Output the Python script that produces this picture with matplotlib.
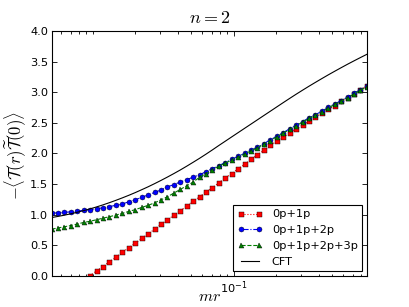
import numpy as np
import matplotlib
matplotlib.use("Agg")
import matplotlib.pyplot as plt
from matplotlib.ticker import LogLocator, NullFormatter, FixedLocator

plt.rcParams['mathtext.fontset'] = 'cm'
plt.rcParams['font.family'] = ['DejaVu Sans']

# mr values (log spaced grid)
mr = [0.005100, 0.005664, 0.006292, 0.006990, 0.007765, 0.008626, 0.009583,
      0.01064, 0.01183, 0.01314, 0.01459, 0.01621, 0.01801, 0.02000, 0.02222,
      0.02469, 0.02742, 0.03046, 0.03384, 0.03759, 0.04176, 0.04639, 0.05153,
      0.05724, 0.06359, 0.07064, 0.07847, 0.08717, 0.09678, 0.1075, 0.1194,
      0.1327, 0.1474, 0.1637, 0.1819, 0.2020, 0.2244, 0.2493, 0.2769, 0.3076,
      0.3417, 0.3796, 0.4216, 0.4684, 0.5203, 0.5779, 0.6420, 0.7131, 0.7922,
      0.8800]

p01 = [-0.46, -0.38, -0.30, -0.23, -0.15, -0.08,
       0.00, 0.08, 0.15, 0.23, 0.30, 0.38, 0.46, 0.53, 0.61, 0.68,
       0.76, 0.84, 0.91, 0.99, 1.06, 1.14, 1.22, 1.29, 1.37, 1.44,
       1.52, 1.60, 1.67, 1.75, 1.82, 1.90, 1.98, 2.05, 2.13, 2.20,
       2.27, 2.33, 2.40, 2.46, 2.53, 2.59, 2.66, 2.72, 2.78, 2.85,
       2.91, 2.97, 3.04, 3.10]

p012 = [1.02, 1.03, 1.035, 1.045, 1.055, 1.07, 1.08, 1.095, 1.11, 1.13,
        1.15, 1.17, 1.21, 1.24, 1.28, 1.32, 1.36, 1.40, 1.45, 1.49,
        1.53, 1.57, 1.61, 1.65, 1.70, 1.75, 1.80, 1.85, 1.90, 1.95,
        2.00, 2.05, 2.10, 2.16, 2.22, 2.28, 2.34, 2.40, 2.46, 2.52,
        2.58, 2.63, 2.69, 2.75, 2.81, 2.86, 2.92, 2.98, 3.04, 3.10]

p0123 = [0.76, 0.78, 0.80, 0.82, 0.845, 0.87, 0.89, 0.915, 0.94, 0.965,
         0.99, 1.02, 1.05, 1.08, 1.115, 1.15, 1.19, 1.24, 1.29, 1.35,
         1.41, 1.47, 1.53, 1.61, 1.67, 1.73, 1.79, 1.84, 1.89, 1.94,
         1.99, 2.04, 2.09, 2.15, 2.21, 2.27, 2.33, 2.39, 2.45, 2.51,
         2.57, 2.62, 2.68, 2.74, 2.80, 2.85, 2.91, 2.97, 3.03, 3.09]

cft = [0.950, 0.969, 0.989, 1.012, 1.037, 1.064, 1.093, 1.124, 1.158, 1.194,
       1.232, 1.272, 1.314, 1.358, 1.405, 1.453, 1.504, 1.557, 1.612, 1.669,
       1.728, 1.790, 1.854, 1.919, 1.987, 2.057, 2.129, 2.199, 2.269, 2.339,
       2.409, 2.479, 2.549, 2.619, 2.689, 2.759, 2.829, 2.898, 2.966, 3.032,
       3.097, 3.160, 3.222, 3.283, 3.342, 3.400, 3.457, 3.512, 3.566, 3.619]

fig = plt.figure(figsize=(4.09, 3.07), dpi=100)
ax = fig.add_axes([0.126, 0.102, 0.771, 0.797])

ms = 3.6
ax.plot(mr, p01, 'r:s', ms=ms, mec='k', mew=0.3, lw=0.8, label='0p+1p')
ax.plot(mr, p012, 'b-.o', ms=ms, mec='k', mew=0.3, lw=0.8, label='0p+1p+2p')
ax.plot(mr, p0123, 'g--^', ms=ms, mec='k', mew=0.3, lw=0.8, label='0p+1p+2p+3p')
ax.plot(mr, cft, 'k-', lw=0.8, label='CFT')

ax.set_xscale('log')
ax.set_xlim(0.0051, 0.88)
ax.set_ylim(0, 4)
ax.set_yticks(np.arange(0, 4.01, 0.5))
ax.xaxis.set_major_locator(FixedLocator([0.1]))
ax.xaxis.set_minor_locator(LogLocator(base=10, subs=np.arange(1, 10)))
ax.xaxis.set_minor_formatter(NullFormatter())

ax.tick_params(which='both', direction='in', top=True, right=True, labelsize=8.2, pad=2.5)
ax.tick_params(which='major', length=3.5, width=0.6)
ax.tick_params(which='minor', length=1.8, width=0.6)
for s in ax.spines.values():
    s.set_linewidth(0.8)

ax.set_xlabel(r'$mr$', fontsize=11.5, va='center')
ax.xaxis.set_label_coords(0.5, -0.085)
ax.set_ylabel(r'$-\langle \mathcal{T}(r)\widetilde{\mathcal{T}}(0)\rangle$', fontsize=12, va='center')
ax.yaxis.set_label_coords(-0.115, 0.49)
ax.set_title(r'$n=2$', fontsize=13, pad=6)

leg = ax.legend(loc='lower right', numpoints=2, fontsize=8.2, fancybox=False,
                framealpha=1, edgecolor='k', borderaxespad=0.4, handlelength=2.2)
leg.get_frame().set_linewidth(0.8)

fig.savefig('out.png', dpi=100)
